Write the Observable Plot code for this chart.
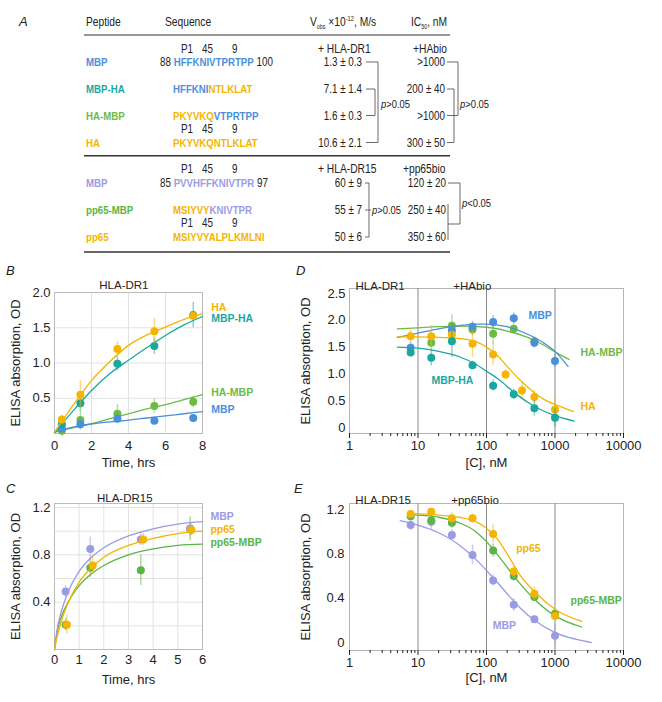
<!DOCTYPE html>
<html><head><meta charset="utf-8">
<script src="https://cdn.jsdelivr.net/npm/d3@7"></script>
<script src="https://cdn.jsdelivr.net/npm/@observablehq/plot@0.6"></script>
<style>
body{margin:0;background:#fff;}
#root{position:relative;width:662px;height:702px;overflow:hidden;font-family:"Liberation Sans",Arial,sans-serif;}
.letter{position:absolute;font-style:italic;font-size:13px;color:#222;font-family:"Liberation Sans",Arial,sans-serif;}
</style></head><body><div id="root"></div>
<script>
// ---------------- DATA ----------------
// Table (panel A)
const dr1Peptides = ["MBP","MBP-HA","HA-MBP","HA"];
const dr1Sequences = [
  [["HFFKNIVTPRTPP","MBP"]],
  [["HFFKNI","MBP"],["NTLKLAT","HA"]],
  [["PKYVKQ","HA"],["VTPRTPP","MBP"]],
  [["PKYVKQNTLKLAT","HA"]]
];
const dr1Vobs = ["1.3 ± 0.3","7.1 ± 1.4","1.6 ± 0.3","10.6 ± 2.1"];
const dr1IC50 = [">1000","200 ± 40",">1000","300 ± 50"];
const dr15Peptides = ["MBP","pp65-MBP","pp65"];
const dr15Sequences = [
  [["PVVHFFKNIVTPR","MBP15"]],
  [["MSIYVY","pp65"],["KNIVTPR","MBP15"]],
  [["MSIYVYALPLKMLNI","pp65"]]
];
const dr15Vobs = ["60 ± 9","55 ± 7","50 ± 6"];
const dr15IC50 = ["120 ± 20","250 ± 40","350 ± 60"];

// Panel B: HLA-DR1 kinetics
const bTime = [0.4, 1.4, 3.4, 5.4, 7.5];
const bHA = [0.20, 0.55, 1.20, 1.45, 1.67];
const bHAerr = [0.06, 0.20, 0.10, 0.18, 0.06];
const bMBPHA = [0.13, 0.43, 0.99, 1.24, 1.68];
const bMBPHAerr = [0.06, 0.12, 0.10, 0.12, 0.18];
const bHAMBP = [0.04, 0.19, 0.28, 0.39, 0.45];
const bHAMBPerr = [0.08, 0.12, 0.13, 0.10, 0.08];
const bMBP = [0.07, 0.13, 0.21, 0.18, 0.22];
const bMBPerr = [0.05, 0.08, 0.06, 0.05, 0.05];
const bFitTime = [0, 1, 2, 3, 4, 5, 6, 7, 8];
const bFitHA = [0.02, 0.40, 0.75, 1.02, 1.25, 1.40, 1.51, 1.62, 1.70];
const bFitMBPHA = [0.01, 0.32, 0.61, 0.85, 1.04, 1.22, 1.39, 1.54, 1.66];
const bFitHAMBP = [0.02, 0.08, 0.14, 0.21, 0.28, 0.35, 0.41, 0.48, 0.55];
const bFitMBP = [0.02, 0.09, 0.135, 0.165, 0.19, 0.22, 0.25, 0.28, 0.31];

// Panel C: HLA-DR15 kinetics
const cTimeMBP = [0.45, 1.45, 3.5, 5.5];
const cMBP = [0.49, 0.85, 0.93, 1.02];
const cMBPerr = [0.05, 0.10, 0.05, 0.06];
const cTimePP65 = [0.5, 1.55, 3.6, 5.55];
const cPP65 = [0.21, 0.71, 0.93, 1.01];
const cPP65err = [0.08, 0.08, 0.05, 0.05];
const cTimePP65MBP = [0.45, 1.45, 3.5, 5.5];
const cPP65MBP = [0.21, 0.69, 0.67, 1.02];
const cPP65MBPerr = [0.05, 0.08, 0.13, 0.10];
const cFitTime = [0, 0.1, 0.25, 0.5, 1, 1.5, 2, 3, 4, 5, 6];
const cFitMBP = [0, 0.16, 0.30, 0.46, 0.66, 0.78, 0.86, 0.96, 1.02, 1.06, 1.08];
const cFitPP65 = [0, 0.10, 0.22, 0.37, 0.57, 0.69, 0.78, 0.88, 0.94, 0.98, 1.00];
const cFitPP65MBP = [0, 0.14, 0.26, 0.38, 0.54, 0.64, 0.71, 0.80, 0.85, 0.88, 0.89];

// Panel D: competition with HAbio, HLA-DR1
const dConcMBP = [7.8125, 31.25, 62.5, 125, 250, 500, 1000];
const dMBP = [1.49, 1.81, 1.88, 1.97, 2.04, 1.58, 1.24];
const dMBPerr = [0.10, 0.12, 0.10, 0.12, 0.10, 0.10, 0.12];
const dConcHAMBP = [15.625, 31.25, 62.5, 125, 250, 500];
const dHAMBP = [1.58, 1.90, 1.83, 1.75, 1.84, 1.61];
const dHAMBPerr = [0.15, 0.20, 0.12, 0.20, 0.10, 0.08];
const dConcHA = [7.8125, 15.625, 31.25, 62.5, 125, 190, 330, 500, 1000];
const dHA = [1.70, 1.70, 1.73, 1.56, 1.36, 0.99, 0.69, 0.57, 0.33];
const dHAerr = [0.12, 0.20, 0.15, 0.25, 0.20, 0.10, 0.15, 0.12, 0.22];
const dConcMBPHA = [7.8125, 15.625, 31.25, 62.5, 125, 250, 500, 1000];
const dMBPHA = [1.40, 1.30, 1.61, 1.16, 0.78, 0.62, 0.36, 0.18];
const dMBPHAerr = [0.08, 0.15, 0.30, 0.08, 0.10, 0.10, 0.15, 0.18];
const dFitConcMBP = [5, 10, 20, 40, 70, 100, 200, 400, 700, 1000, 1550];
const dFitMBP = [1.68, 1.76, 1.84, 1.90, 1.93, 1.93, 1.88, 1.74, 1.57, 1.42, 1.14];
const dFitConcHAMBP = [5, 10, 20, 40, 100, 200, 400, 700, 1000, 1600];
const dFitHAMBP = [1.84, 1.86, 1.88, 1.89, 1.87, 1.80, 1.68, 1.53, 1.41, 1.27];
const dFitConcHA = [5, 10, 20, 40, 70, 100, 150, 200, 300, 500, 700, 1000, 1850];
const dFitHA = [1.69, 1.69, 1.68, 1.66, 1.60, 1.50, 1.32, 1.14, 0.90, 0.65, 0.52, 0.43, 0.30];
const dFitConcMBPHA = [5, 10, 20, 40, 70, 100, 150, 250, 400, 600, 1000, 1900];
const dFitMBPHA = [1.50, 1.48, 1.42, 1.32, 1.18, 1.05, 0.90, 0.66, 0.47, 0.34, 0.22, 0.12];

// Panel E: competition with pp65bio, HLA-DR15
const eConcPP65 = [7.8125, 15.625, 31.25, 62.5, 125, 250, 500, 1000];
const ePP65 = [1.16, 1.18, 1.12, 1.12, 0.98, 0.64, 0.44, 0.24];
const ePP65err = [0.03, 0.03, 0.05, 0.04, 0.08, 0.05, 0.06, 0.04];
const eConcPP65MBP = [7.8125, 15.625, 31.25, 125, 250, 500, 1000];
const ePP65MBP = [1.14, 1.10, 1.08, 0.83, 0.60, 0.41, 0.26];
const ePP65MBPerr = [0.03, 0.05, 0.05, 0.06, 0.05, 0.04, 0.04];
const eConcMBP = [7.8125, 15.625, 31.25, 62.5, 125, 250, 500, 1000];
const eMBP = [1.06, 1.09, 0.97, 0.79, 0.56, 0.34, 0.21, 0.06];
const eMBPerr = [0.05, 0.07, 0.05, 0.09, 0.05, 0.06, 0.03, 0.10];
const eFitConc = [7.3, 10, 20, 40, 70, 100, 150, 200, 250, 300, 500, 1000, 2450];
const eFitPP65 = [1.16, 1.16, 1.15, 1.13, 1.09, 1.03, 0.92, 0.80, 0.70, 0.62, 0.46, 0.30, 0.19];
const eFitPP65MBP = [1.16, 1.15, 1.13, 1.08, 1.00, 0.91, 0.78, 0.68, 0.60, 0.54, 0.39, 0.24, 0.14];
const eFitConcMBP = [5.5, 10, 20, 40, 70, 100, 150, 200, 300, 500, 1000, 2000, 3400];
const eFitMBP = [1.10, 1.06, 0.99, 0.88, 0.75, 0.65, 0.53, 0.44, 0.32, 0.20, 0.09, 0.03, 0.00];

// axis ticks
const kinBTicksX = [0, 2, 4, 6, 8];
const kinBTicksY = [0.5, 1.0, 1.5, 2.0];
const kinCTicksX = [0, 1, 2, 3, 4, 5, 6];
const kinCTicksY = [0.4, 0.8, 1.2];
const concTicks = [1, 10, 100, 1000, 10000];
const dTicksY = [0, 0.5, 1.0, 1.5, 2.0, 2.5];
const eTicksY = [0, 0.4, 0.8, 1.2];

// ---------------- STYLE ----------------
const COL = {MBP: "#4a8fdc", MBPHA: "#19a89f", HAMBP: "#6cbb45", HA: "#f4b400",
             MBP15: "#9b9be4", pp65: "#f4b400", PP65MBP: "#5bb544"};
const SANS = '"Liberation Sans",Arial,sans-serif';
const root = document.getElementById("root");

// ---------------- TABLE ----------------
const svgT = d3.select(root).append("svg").attr("width", 662).attr("height", 262)
  .style("position", "absolute").style("left", "0px").style("top", "0px")
  .attr("font-family", SANS).attr("fill", "#222");
// condensed text: horizontal scale emulates a narrow face
function t(x, y, str, o = {}) {
  const sx = o.sx ?? 0.82;
  const e = svgT.append("text").attr("transform", `translate(${x},${y}) scale(${sx},1)`)
    .attr("font-size", o.size || 12).text(str);
  if (o.anchor) e.attr("text-anchor", o.anchor);
  if (o.weight) e.attr("font-weight", o.weight);
  if (o.fill) e.attr("fill", o.fill);
  if (o.italic) e.attr("font-style", "italic");
  return e;
}
function line(x1, y1, x2, y2, w = 0.8, c = "#444") {
  svgT.append("line").attr("x1", x1).attr("y1", y1).attr("x2", x2).attr("y2", y2)
    .attr("stroke", c).attr("stroke-width", w);
}
function pText(x, y, rel) {
  const p = t(x, y, "", {size: 11.5});
  p.append("tspan").attr("font-style", "italic").text("p");
  p.append("tspan").text(rel);
}
t(19, 26, "A", {italic: true, size: 13, sx: 1});
t(86, 26, "Peptide", {size: 12.5});
t(165, 26, "Sequence", {size: 12.5});
{
  const v = t(310, 26, "", {size: 12.5});
  v.append("tspan").text("V");
  v.append("tspan").attr("font-size", 6.5).attr("dy", 3).text("obs");
  v.append("tspan").attr("dy", -3).text(" ×10");
  v.append("tspan").attr("font-size", 7).attr("dy", -5).text("-12");
  v.append("tspan").attr("dy", 5).text(", M/s");
  const ic = t(411, 26, "", {size: 12.5});
  ic.append("tspan").text("IC");
  ic.append("tspan").attr("font-size", 6.5).attr("dy", 3).text("50");
  ic.append("tspan").attr("dy", -3).text(", nM");
}
line(84, 35, 450, 35, 1.2, "#333");
line(84, 155.7, 450, 155.7, 1.6, "#333");
line(84, 252, 450, 252, 1.6, "#333");

function posRow(y) {
  t(181, y, "P1", {size: 12});
  t(202, y, "45", {size: 12});
  t(232, y, "9", {size: 12});
}
function seqRow(y, segs, pre, post) {
  const e = t(pre ? 160 : 173, y, "", {size: 11.8});
  if (pre) e.append("tspan").attr("font-size", 12).text(pre + " ");
  segs.forEach(([s, k]) => e.append("tspan").attr("font-weight", "bold").attr("fill", COL[k]).text(s));
  if (post) e.append("tspan").attr("font-size", 12).text(" " + post);
}
const dr1Y = [66, 93, 119.5, 146.5];
const dr1NameCol = [COL.MBP, COL.MBPHA, COL.HAMBP, COL.HA];
posRow(52.7); posRow(132.7);
t(318, 52.7, "+ HLA-DR1", {size: 12.5});
t(413, 52.7, "+HAbio", {size: 12.5});
dr1Peptides.forEach((p, i) => {
  t(86, dr1Y[i], p, {size: 11.8, weight: "bold", fill: dr1NameCol[i]});
  seqRow(dr1Y[i], dr1Sequences[i], i === 0 ? "88" : null, i === 0 ? "100" : null);
  t(362, dr1Y[i], dr1Vobs[i], {size: 12});
  t(445, dr1Y[i], dr1IC50[i], {size: 12});
});
// right-align value columns
svgT.selectAll("text").filter(function () { return false; });
// brackets DR1
{
  const m = dr1Y.map(y => y - 4);
  line(366, m[0], 378, m[0]); line(378, m[0], 378, m[3]); line(366, m[3], 378, m[3]);
  line(366, m[1], 375, m[1]); line(375, m[1], 375, m[2]); line(366, m[2], 375, m[2]);
  pText(381, 108, ">0.05");
  line(447, m[0], 458, m[0]); line(458, m[0], 458, m[2]); line(447, m[2], 458, m[2]);
  line(447, m[1], 454, m[1]); line(454, m[1], 454, m[3]); line(447, m[3], 454, m[3]);
  pText(460, 108, ">0.05");
}
const dr15Y = [187, 214, 241];
const dr15NameCol = [COL.MBP15, COL.PP65MBP, COL.pp65];
posRow(173.3); posRow(227.3);
t(318, 173.3, "+ HLA-DR15", {size: 12.5});
t(403, 173.3, "+pp65bio", {size: 12.5});
dr15Peptides.forEach((p, i) => {
  t(86, dr15Y[i], p, {size: 11.8, weight: "bold", fill: dr15NameCol[i]});
  seqRow(dr15Y[i], dr15Sequences[i], i === 0 ? "85" : null, i === 0 ? "97" : null);
  t(362, dr15Y[i], dr15Vobs[i], {size: 12});
  t(446, dr15Y[i], dr15IC50[i], {size: 12});
});
// value texts are end-anchored
svgT.selectAll("text").each(function () {
  const s = this.textContent;
  if (/±|^>1000$/.test(s)) d3.select(this).attr("text-anchor", "end");
});
{
  const m = dr15Y.map(y => y - 4);
  line(365, m[0], 369, m[0]); line(369, m[0], 369, m[2]); line(365, m[1], 371, m[1]); line(365, m[2], 369, m[2]);
  pText(372, m[1] + 4, ">0.05");
  line(448, m[0], 460, m[0]); line(460, m[0], 460, 224); line(448, 224, 460, 224);
  line(448, m[1] - 6, 448, m[2] + 3);
  pText(462, 207, "<0.05");
}

// ---------------- CHARTS ----------------
const pts = (xs, ys, es) => xs.map((x, i) => ({x, y: ys[i], e: es[i]}));
const fit = (xs, ys) => xs.map((x, i) => ({x, y: ys[i]}));
function seriesMarks(p, f, color) {
  return [
    Plot.ruleX(p, {x: "x", y1: d => d.y - d.e, y2: d => d.y + d.e, stroke: color, strokeOpacity: 0.5, strokeWidth: 1.5}),
    Plot.line(f, {x: "x", y: "y", stroke: color, strokeWidth: 1.3, curve: "monotone-x"}),
    Plot.dot(p, {x: "x", y: "y", r: 4, fill: color})
  ];
}
function labels(items) {
  return items.map(([x, y, s, c]) => Plot.text([s], {x: () => x, y: () => y, text: d => d, fill: c,
    textAnchor: "start", fontWeight: "bold", fontSize: 10.5}));
}
function title(x, s, dy) {
  return Plot.text([s], {x: () => x, frameAnchor: "top", dy, text: d => d, fontSize: 11.5});
}
function place(svg, left, top) {
  svg.style.position = "absolute";
  svg.style.left = left + "px";
  svg.style.top = top + "px";
  svg.style.overflow = "visible";
  root.appendChild(svg);
}
const baseStyle = {fontFamily: SANS, fontSize: "12px", color: "#222", background: "transparent"};

// Panel B
const plotB = Plot.plot({
  width: 330, height: 200, marginLeft: 54, marginRight: 128, marginTop: 22, marginBottom: 37,
  style: baseStyle,
  x: {domain: [0, 8]}, y: {domain: [0, 2]},
  marks: [
    Plot.gridX([2, 4, 6], {stroke: "#e2e2e2", strokeOpacity: 1}),
    Plot.gridY([0.5, 1, 1.5], {stroke: "#e2e2e2", strokeOpacity: 1}),
    Plot.frame({stroke: "#bbb"}),
    Plot.axisX(kinBTicksX, {tickSize: 0, tickPadding: 7, fontSize: 13, label: "Time, hrs", labelAnchor: "center", labelOffset: 33, labelArrow: "none"}),
    Plot.axisY(kinBTicksY, {tickSize: 0, tickPadding: 4, fontSize: 13, tickFormat: d => d.toFixed(1), label: "ELISA absorption, OD", labelAnchor: "center", labelOffset: 44, labelArrow: "none"}),
    ...seriesMarks(pts(bTime, bHAMBP, bHAMBPerr), fit(bFitTime, bFitHAMBP), COL.HAMBP),
    ...seriesMarks(pts(bTime, bMBP, bMBPerr), fit(bFitTime, bFitMBP), COL.MBP),
    ...seriesMarks(pts(bTime, bMBPHA, bMBPHAerr), fit(bFitTime, bFitMBPHA), COL.MBPHA),
    ...seriesMarks(pts(bTime, bHA, bHAerr), fit(bFitTime, bFitHA), COL.HA),
    ...labels([[8.47, 1.785, "HA", COL.HA], [8.47, 1.625, "MBP-HA", COL.MBPHA], [8.47, 0.586, "HA-MBP", COL.HAMBP], [8.47, 0.336, "MBP", COL.MBP]]),
    title(3.75, "HLA-DR1", -12)
  ]
});
place(plotB, 0, 270);

// Panel C
const plotC = Plot.plot({
  width: 330, height: 232, marginLeft: 54, marginRight: 128, marginTop: 33, marginBottom: 53,
  style: baseStyle,
  x: {domain: [0, 6]}, y: {domain: [0, 1.234]},
  marks: [
    Plot.gridX([1, 2, 3, 4, 5], {stroke: "#e2e2e2", strokeOpacity: 1}),
    Plot.gridY([0.2, 0.4, 0.6, 0.8, 1.0, 1.2], {stroke: "#e2e2e2", strokeOpacity: 1}),
    Plot.frame({stroke: "#bbb"}),
    Plot.axisX(kinCTicksX, {tickSize: 0, tickPadding: 5, fontSize: 13, label: "Time, hrs", labelAnchor: "center", labelOffset: 34, labelArrow: "none"}),
    Plot.axisY(kinCTicksY, {tickSize: 0, tickPadding: 4, fontSize: 13, tickFormat: d => d.toFixed(1), label: "ELISA absorption, OD", labelAnchor: "center", labelOffset: 44, labelArrow: "none"}),
    ...seriesMarks(pts(cTimePP65MBP, cPP65MBP, cPP65MBPerr), fit(cFitTime, cFitPP65MBP), COL.PP65MBP),
    ...seriesMarks(pts(cTimeMBP, cMBP, cMBPerr), fit(cFitTime, cFitMBP), COL.MBP15),
    ...seriesMarks(pts(cTimePP65, cPP65, cPP65err), fit(cFitTime, cFitPP65), COL.pp65),
    ...labels([[6.32, 1.12, "MBP", COL.MBP15], [6.32, 1.015, "pp65", COL.pp65], [6.32, 0.905, "pp65-MBP", COL.PP65MBP]]),
    title(2.85, "HLA-DR15", -10)
  ]
});
place(plotC, 0, 470);

// minor log ticks
const minorTicks = d3.range(0, 4).flatMap(k => d3.range(2, 10).map(m => m * Math.pow(10, k)));

// Panel D
const plotD = Plot.plot({
  width: 372, height: 220, marginLeft: 59, marginRight: 39, marginTop: 18, marginBottom: 57,
  style: baseStyle,
  x: {type: "log", domain: [1, 10000]}, y: {domain: [-0.112, 2.593]},
  marks: [
    Plot.frame({stroke: "#b5b5b5"}),
    Plot.ruleX([10, 100, 1000], {stroke: "#8a8a8a", strokeWidth: 1}),
    Plot.axisX(minorTicks, {tickSize: 3, tickFormat: () => "", label: null}),
    Plot.axisX(concTicks, {tickSize: 5, tickPadding: 2, fontSize: 13, tickFormat: d => String(d), label: "[C], nM", labelAnchor: "center", labelOffset: 33, labelArrow: "none"}),
    Plot.axisY(dTicksY, {tickSize: 0, tickPadding: 4, fontSize: 13, tickFormat: d => d === 0 ? "0" : d.toFixed(1), label: "ELISA absorption, OD", labelAnchor: "center", labelOffset: 49, labelArrow: "none"}),
    ...seriesMarks(pts(dConcHAMBP, dHAMBP, dHAMBPerr), fit(dFitConcHAMBP, dFitHAMBP), COL.HAMBP),
    ...seriesMarks(pts(dConcMBP, dMBP, dMBPerr), fit(dFitConcMBP, dFitMBP), COL.MBP),
    ...seriesMarks(pts(dConcHA, dHA, dHAerr), fit(dFitConcHA, dFitHA), COL.HA),
    ...seriesMarks(pts(dConcMBPHA, dMBPHA, dMBPHAerr), fit(dFitConcMBPHA, dFitMBPHA), COL.MBPHA),
    ...labels([[410, 2.09, "MBP", COL.MBP], [2357, 1.39, "HA-MBP", COL.HAMBP], [2357, 0.39, "HA", COL.HA], [15.7, 0.88, "MBP-HA", COL.MBPHA]]),
    title(2.8, "HLA-DR1", -7),
    title(62, "+HAbio", -7)
  ]
});
place(plotD, 290, 270);

// Panel E
const plotE = Plot.plot({
  width: 372, height: 232, marginLeft: 59, marginRight: 39, marginTop: 33, marginBottom: 52,
  style: baseStyle,
  x: {type: "log", domain: [1, 10000]}, y: {domain: [-0.072, 1.254]},
  marks: [
    Plot.frame({stroke: "#b5b5b5"}),
    Plot.ruleX([10, 100, 1000], {stroke: "#8a8a8a", strokeWidth: 1}),
    Plot.axisX(minorTicks, {tickSize: 3, tickFormat: () => "", label: null}),
    Plot.axisX(concTicks, {tickSize: 5, tickPadding: 2, fontSize: 13, tickFormat: d => String(d), label: "[C], nM", labelAnchor: "center", labelOffset: 31, labelArrow: "none"}),
    Plot.axisY(eTicksY, {tickSize: 0, tickPadding: 5, fontSize: 13, tickFormat: d => d === 0 ? "0" : d.toFixed(1), label: "ELISA absorption, OD", labelAnchor: "center", labelOffset: 49, labelArrow: "none"}),
    ...seriesMarks(pts(eConcMBP, eMBP, eMBPerr), fit(eFitConcMBP, eFitMBP), COL.MBP15),
    ...seriesMarks(pts(eConcPP65MBP, ePP65MBP, ePP65MBPerr), fit(eFitConc, eFitPP65MBP), COL.PP65MBP),
    ...seriesMarks(pts(eConcPP65, ePP65, ePP65err), fit(eFitConc, eFitPP65), COL.pp65),
    ...labels([[271, 0.846, "pp65", COL.pp65], [1683, 0.38, "pp65-MBP", COL.PP65MBP], [123, 0.153, "MBP", COL.MBP15]]),
    title(3.1, "HLA-DR15", -8),
    title(68, "+pp65bio", -8)
  ]
});
place(plotE, 290, 470);

// panel letters
[["B", 6, 263], ["D", 296, 263], ["C", 6, 481], ["E", 294, 481]].forEach(([s, x, y]) => {
  const d = document.createElement("div");
  d.className = "letter"; d.textContent = s; d.style.left = x + "px"; d.style.top = y + "px";
  root.appendChild(d);
});
</script></body></html>
